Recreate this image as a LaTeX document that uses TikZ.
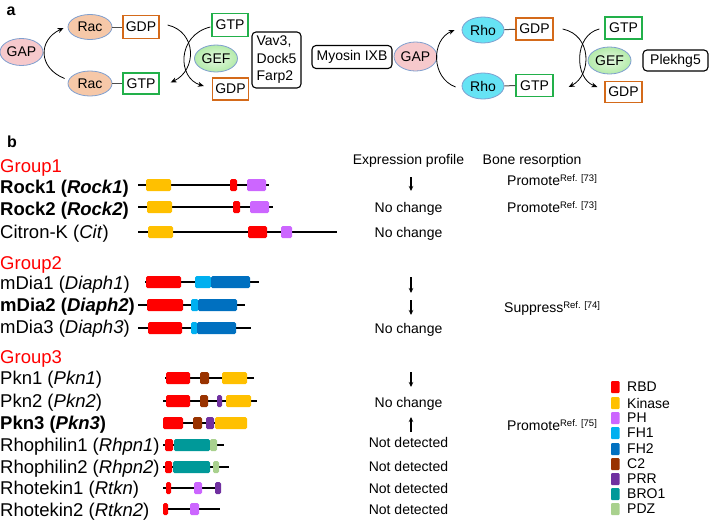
\documentclass[tikz,border=0pt]{standalone}
\usepackage{fontspec}
\setmainfont{Liberation Sans}
\usetikzlibrary{shapes.geometric,arrows.meta}
\definecolor{rbd}{HTML}{FF0000}
\definecolor{kin}{HTML}{FFC000}
\definecolor{ph}{HTML}{CC66FF}
\definecolor{fhone}{HTML}{00B0F0}
\definecolor{fhtwo}{HTML}{0070C0}
\definecolor{ctwo}{HTML}{993300}
\definecolor{prr}{HTML}{7030A0}
\definecolor{bro}{HTML}{009999}
\definecolor{pdz}{HTML}{A9D18E}
\definecolor{ellb}{HTML}{7F9FCF}
\definecolor{gapc}{HTML}{F6C9CC}
\definecolor{racc}{HTML}{F6C8A8}
\definecolor{rhoc}{HTML}{66E3F4}
\definecolor{gefc}{HTML}{B4EBAA}
\definecolor{gdpc}{HTML}{D46A1A}
\definecolor{gtpc}{HTML}{22B04A}
\newcommand\dombox[4]{\fill[#1,rounded corners=1.5pt] (#2,#4-6) rectangle (#3,#4+6);}
\newcommand\backbone[3]{\draw[line width=2.6pt] (#1,#3) -- (#2,#3);}
\newcommand\refsup[1]{\raisebox{4pt}{\fontsize{9.5}{10}\selectfont #1}}
\begin{document}
\begin{tikzpicture}[x=1pt,y=-1pt,
  ell/.style={ellipse, draw=ellb, line width=0.8pt, inner sep=0pt, minimum width=43pt, minimum height=27pt, font=\fontsize{14}{16}\selectfont},
  gefs/.style={ell, inner color=gefc!35!white, outer color=gefc},
  bx/.style={rectangle, line width=1.3pt, minimum width=36pt, minimum height=23pt, inner sep=0pt, font=\fontsize{14}{16}\selectfont},
  gdp/.style={bx, draw=gdpc},
  gtp/.style={bx, draw=gtpc},
  lbl/.style={rectangle, rounded corners=4pt, draw=black, line width=1.1pt, inner sep=3pt, font=\fontsize{14}{16}\selectfont},
  arr/.style={-{Stealth[length=6pt,width=5pt]}, line width=0.8pt},
  earr/.style={-{Stealth[length=5pt,width=4.5pt]}, line width=1.3pt},
  gname/.style={anchor=base west, inner sep=0pt, font=\fontsize{18.5}{20}\selectfont},
  grp/.style={gname, text=red},
  col/.style={anchor=base, inner sep=0pt, font=\fontsize{14}{16}\selectfont},
  colw/.style={anchor=base west, inner sep=0pt, font=\fontsize{14}{16}\selectfont},
  leg/.style={anchor=west, inner sep=0pt, font=\fontsize{14}{16}\selectfont},
  panel/.style={anchor=center, inner sep=0pt, font=\fontsize{16}{16}\selectfont\bfseries}]
\useasboundingbox (0,0) rectangle (709,523);
% ---------- panel a ----------
\node[panel] (pa) at (11,11) {a};
\node[ell, fill=gapc] (gapL) at (21.5,52) {GAP};
\node[ell, fill=racc, minimum width=44pt, minimum height=25pt] (racT) at (90,27) {Rac};
\node[gdp] (gdpT) at (141,27) {GDP};
\node[ell, fill=racc, minimum width=44pt, minimum height=25pt] (racB) at (90,83.5) {Rac};
\node[gtp, minimum height=21pt] (gtpB) at (141,83.5) {GTP};
\draw[line width=1pt, black!70] (racT) -- (gdpT);
\draw[line width=1pt, black!70] (racB) -- (gtpB);
\node[gtp] (gtpR) at (230,25) {GTP};
\node[gefs] (gefL) at (216,58.5) {GEF};
\node[gdp, minimum height=22pt] (gdpR) at (230.5,89) {GDP};
\node[lbl, align=left, minimum width=49pt, minimum height=56pt, font=\fontsize{14}{17.5}\selectfont] (vav) at (276.5,60) {Vav3,\\Dock5\\Farp2};
\node[lbl, minimum width=80pt, minimum height=23pt] (myo) at (352,57) {Myosin IXB};
\node[ell, fill=gapc, minimum height=29pt] (gapR) at (415.5,56.5) {GAP};
\node[ell, fill=rhoc, minimum width=42pt, minimum height=26pt] (rhoT) at (483,30) {Rho};
\node[gdp, minimum height=22pt, minimum width=37pt] (gdpT2) at (534.5,29) {GDP};
\node[ell, fill=rhoc, minimum width=42pt, minimum height=26pt] (rhoB) at (483,86) {Rho};
\node[gtp, minimum height=22pt, minimum width=37pt] (gtpB2) at (534.5,85.5) {GTP};
\draw[line width=1pt, black!70] (rhoT) -- (gdpT2);
\draw[line width=1pt, black!70] (rhoB) -- (gtpB2);
\node[gtp, minimum height=22pt, minimum width=37pt] (gtpR2) at (623.5,28) {GTP};
\node[gefs] (gefR) at (609.5,60.5) {GEF};
\node[gdp, minimum height=21pt, minimum width=37pt] (gdpR2) at (623.5,92) {GDP};
\node[lbl, minimum width=65pt, minimum height=21pt] (plek) at (675.5,60.5) {Plekhg5};
% arcs
\draw[arr] ([shift={(-3,-5)}]racB.west) .. controls (38,68) and (38,40) .. ([shift={(-4,1)}]racT.west);
\draw[arr] ([shift={(8,-2)}]gdpT.east) .. controls (197,32) and (197,70) .. ([shift={(11,-1)}]gtpB.east);
\draw[arr] ([shift={(-1,2)}]gtpR.west) .. controls (177,35) and (177,78) .. ([shift={(-8,-3)}]gdpR.west);
\draw[arr] ([shift={(-6,1)}]rhoB.west) .. controls (431,78) and (431,40) .. ([shift={(-7,0)}]rhoT.west);
\draw[arr] ([shift={(9,0)}]gdpT2.east) .. controls (592,35) and (592,75) .. ([shift={(15,1.5)}]gtpB2.east);
\draw[arr] ([shift={(-5,1)}]gtpR2.west) .. controls (574,35) and (574,78) .. ([shift={(-7,-5)}]gdpR2.west);
% ---------- panel b ----------
\node[panel] (pb) at (12,142) {b};
\node[col] (hexp) at (408.5,164) {Expression profile};
\node[colw] (hbone) at (482.5,164) {Bone resorption};
% names
\node[grp] (g1) at (0,172.5) {Group1};
\node[gname] (n1) at (0,193) {\textbf{Rock1 (\textit{Rock1})}};
\node[gname] (n2) at (0,215.5) {\textbf{Rock2 (\textit{Rock2})}};
\node[gname] (n3) at (0,238.5) {Citron-K (\textit{Cit})};
\node[grp] (g2) at (0,269.5) {Group2};
\node[gname] (n4) at (0,289.5) {mDia1 (\textit{Diaph1})};
\node[gname] (n5) at (0,311.5) {\textbf{mDia2 (\textit{Diaph2})}};
\node[gname] (n6) at (0,333.5) {mDia3 (\textit{Diaph3})};
\node[grp] (g3) at (0,363.5) {Group3};
\node[gname] (n7) at (0,384.5) {Pkn1 (\textit{Pkn1})};
\node[gname] (n8) at (0,407.5) {Pkn2 (\textit{Pkn2})};
\node[gname] (n9) at (0,429.5) {\textbf{Pkn3 (\textit{Pkn3})}};
\node[gname] (n10) at (0,451.5) {Rhophilin1 (\textit{Rhpn1})};
\node[gname] (n11) at (0,473.5) {Rhophilin2 (\textit{Rhpn2})};
\node[gname] (n12) at (0,494.5) {Rhotekin1 (\textit{Rtkn})};
\node[gname] (n13) at (0,516.5) {Rhotekin2 (\textit{Rtkn2})};
% domain structures
\backbone{138}{269}{185}
\dombox{kin}{146}{171}{185}\dombox{rbd}{230}{237}{185}\dombox{ph}{247}{266}{185}
\backbone{138}{273}{207}
\dombox{kin}{147}{172}{207}\dombox{rbd}{233}{240}{207}\dombox{ph}{250}{269}{207}
\backbone{138}{337}{232}
\dombox{kin}{148}{173}{232}\dombox{rbd}{248}{267}{232}\dombox{ph}{281}{292}{232}
\backbone{145}{259}{282}
\dombox{rbd}{146}{181}{282}\dombox{fhone}{195}{211}{282}\dombox{fhtwo}{211}{250}{282}
\backbone{138}{245}{305}
\dombox{rbd}{147}{183}{305}\dombox{fhone}{191}{198.5}{305}\dombox{fhtwo}{198}{237}{305}
\backbone{138}{251}{328}
\dombox{rbd}{148}{182}{328}\dombox{fhone}{191}{197.5}{328}\dombox{fhtwo}{197}{236}{328}
\backbone{165}{254}{378}
\dombox{rbd}{166}{190}{378}\dombox{ctwo}{200}{209}{378}\dombox{kin}{222}{247}{378}
\backbone{163}{257}{401}
\dombox{rbd}{166}{190}{401}\dombox{ctwo}{200}{208}{401}\dombox{prr}{217}{222}{401}\dombox{kin}{226}{251}{401}
\backbone{163}{247}{423}
\dombox{rbd}{163}{183}{423}\dombox{ctwo}{193}{202}{423}\dombox{prr}{206}{214}{423}\dombox{kin}{215}{247}{423}
\backbone{163}{224}{445}
\dombox{rbd}{165}{173}{445}\dombox{bro}{174}{210}{445}\dombox{pdz}{210}{217}{445}
\backbone{163}{229}{467}
\dombox{rbd}{165}{172}{467}\dombox{bro}{173}{210}{467}\dombox{pdz}{213}{219}{467}
\backbone{163}{221}{488}
\dombox{rbd}{166}{171}{488}\dombox{ph}{194}{202}{488}\dombox{prr}{215}{221}{488}
\backbone{163}{220}{509}
\dombox{rbd}{163}{168}{509}\dombox{ph}{190}{199}{509}
% expression profile
\coordinate (e1a) at (411,177); \coordinate (e1b) at (411,191);
\draw[earr] (e1a) -- (e1b);
\node[col] (x2) at (408.5,212) {No change};
\node[col] (x3) at (408.5,237) {No change};
\coordinate (e4a) at (411,277); \coordinate (e4b) at (411,293);
\draw[earr] (e4a) -- (e4b);
\coordinate (e5a) at (411,300); \coordinate (e5b) at (411,315);
\draw[earr] (e5a) -- (e5b);
\node[col] (x6) at (408.5,333) {No change};
\coordinate (e7a) at (411,372); \coordinate (e7b) at (411,387);
\draw[earr] (e7a) -- (e7b);
\node[col] (x8) at (408.5,407) {No change};
\coordinate (e9a) at (411,432); \coordinate (e9b) at (411,417);
\draw[earr] (e9a) -- (e9b);
\node[col] (x10) at (408.5,447) {Not detected};
\node[col] (x11) at (408.5,471) {Not detected};
\node[col] (x12) at (408.5,493) {Not detected};
\node[col] (x13) at (408.5,514) {Not detected};
% bone resorption
\node[colw] (b1) at (507,185) {Promote\refsup{Ref. [73]}};
\node[colw] (b2) at (507,212) {Promote\refsup{Ref. [73]}};
\node[colw] (b5) at (504,312) {Suppress\refsup{Ref. [74]}};
\node[colw] (b9) at (507,430) {Promote\refsup{Ref. [75]}};
% legend
\foreach \c/\t/\y [count=\i] in {rbd/RBD/387, kin/Kinase/403, ph/PH/418, fhone/FH1/433, fhtwo/FH2/449, ctwo/C2/464, prr/PRR/479, bro/BRO1/494, pdz/PDZ/509}{
  \fill[\c, rounded corners=1pt] (611,\y-6) rectangle (619.5,\y+6);
  \node[leg] (lg\i) at (627,\y) {\t};
}
\end{tikzpicture}
\end{document}
